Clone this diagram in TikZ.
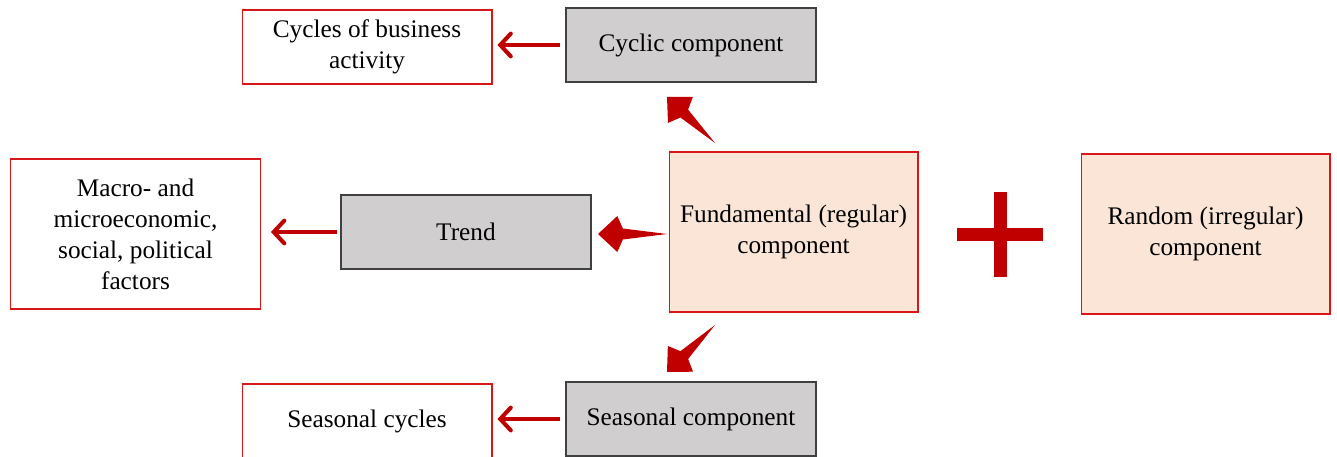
\documentclass[tikz,border=0pt]{standalone}
\usepackage{fontspec}
\setmainfont{Liberation Serif}
\usepackage{xcolor}
\usepackage{tikz}
\usetikzlibrary{positioning,calc,arrows.meta}

\definecolor{arrowred}{HTML}{C00000}
\definecolor{boxred}{HTML}{D81818}
\definecolor{boxgray}{HTML}{D0CECE}
\definecolor{boxpeach}{HTML}{FBE5D6}

% filled tapered arrow: #1 tail, #2 tip
\newcommand{\fatarrow}[2]{%
  \coordinate (notch) at ($(#2)!0.36!(#1)$);
  \coordinate (barb) at ($(#2)!0.28!(#1)$);
  \fill[arrowred] (#1) -- ($(notch)!0.11cm!90:(#1)$) -- ($(barb)!0.36cm!90:(#1)$) -- (#2)
    -- ($(barb)!0.36cm!-90:(#1)$) -- ($(notch)!0.11cm!-90:(#1)$) -- cycle;}

\tikzset{
  whitebox/.style={draw=boxred, fill=white, line width=0.6pt, minimum width=5cm, minimum height=1.48cm, align=center},
  graybox/.style={draw=black!75, fill=boxgray, line width=0.8pt, minimum width=5cm, minimum height=1.48cm, align=center},
  mainbox/.style={draw=boxred, fill=boxpeach, line width=0.6pt, minimum width=4.98cm, minimum height=3.2cm, align=center},
  thinarrow/.style={draw=arrowred, line width=2.3pt, -{Straight Barb[length=6pt,width=13pt,line cap=round]}},
}

\begin{document}
\begin{tikzpicture}[x=0.02cm, y=-0.02cm, every node/.style={font=\fontsize{14.4}{17.6}\selectfont}]
    \useasboundingbox (0,0) rectangle (1337,456);

    % left column
    \node[whitebox] (cycles) at (367,47) {Cycles of business\\activity};
    \node[whitebox, minimum height=3cm] (macro) at (135.5,234) {Macro- and\\microeconomic,\\social, political\\factors};
    \node[whitebox] (seascycles) at (367,421) {Seasonal cycles};

    % components
    \node[graybox] (cyclic) at (691,45) {Cyclic component};
    \node[graybox] (trend) at (466,232) {Trend};
    \node[graybox] (seasonal) at (691,419) {Seasonal component};

    \node[mainbox] (fund) at (793.5,232) {Fundamental (regular)\\component};
    \node[mainbox] (random) at (1205.5,234) {Random (irregular)\\component};

    % thin arrows
    \draw[thinarrow, shorten <=3pt, shorten >=0.1cm] (cyclic.west) -- (cycles.east |- cyclic.west);
    \draw[thinarrow, shorten <=0.06cm, shorten >=0.2cm] (trend.west) -- (macro.east |- trend.west);
    \draw[thinarrow, shorten <=3pt, shorten >=0.1cm] (seasonal.west) -- (seascycles.east |- seasonal.west);

    % big arrows out of the fundamental component
    \coordinate (upTail) at (715,143);
    \coordinate (upTip) at (667,97);
    \coordinate (leftTail) at (667,234);
    \coordinate (leftTip) at (598,234);
    \coordinate (downTail) at (715,325);
    \coordinate (downTip) at (667,372);
    \fatarrow{upTail}{upTip}
    \fatarrow{leftTail}{leftTip}
    \fatarrow{downTail}{downTip}

    % plus sign
    \fill[arrowred] (994,192) rectangle (1007,277);
    \fill[arrowred] (957,228) rectangle (1043,241);
\end{tikzpicture}
\end{document}
